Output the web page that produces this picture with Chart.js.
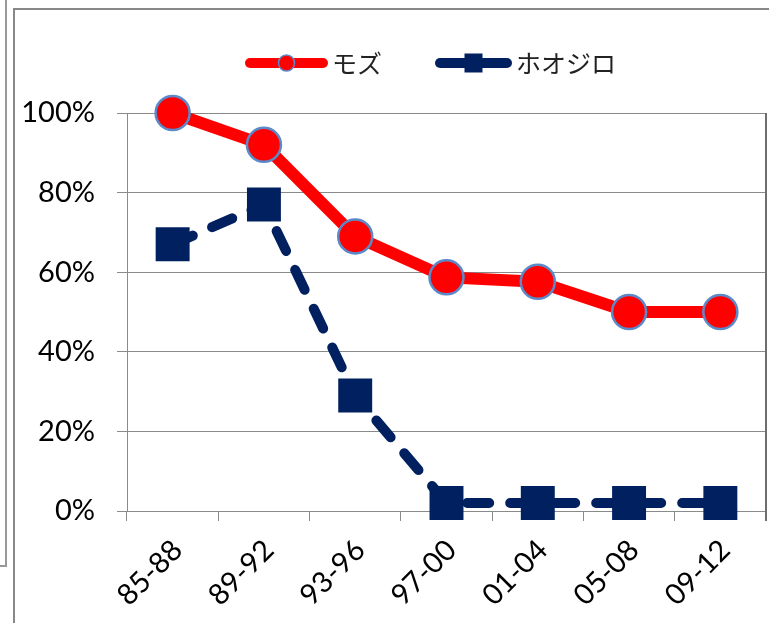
<!DOCTYPE html>
<html>
<head>
<meta charset="utf-8">
<script src="https://cdn.jsdelivr.net/npm/chart.js@4/dist/chart.umd.min.js"></script>
<style>
  html, body { margin: 0; padding: 0; background: #fff; }
  #wrap { position: relative; width: 769px; height: 623px; overflow: hidden; }
  #chart { position: absolute; left: 0; top: 0; }
  .frame-outer { position: absolute; left: -10px; top: -10px; width: 15px; height: 575px;
                 border-right: 2px solid #999; border-bottom: 2px solid #999; }
  .frame-inner { position: absolute; left: 13px; top: 8px; width: 800px; height: 700px;
                 border-left: 2px solid #888; border-top: 2px solid #888; }
</style>
</head>
<body>
<div id="wrap">
  <canvas id="chart" width="769" height="623"></canvas>
  <div class="frame-outer"></div>
  <div class="frame-inner"></div>
</div>
<script>
// Survey periods
const categories = ['85-88', '89-92', '93-96', '97-00', '01-04', '05-08', '09-12'];
// Share of sites where each species was recorded (%)
const mozu = [100, 92, 69, 58.7, 57.6, 50, 50];
const hoojiro = [67, 77, 29, 2, 2, 2, 2];
// Y axis ticks
const yTicks = [0, 20, 40, 60, 80, 100];

const RED = '#FF0000';
const NAVY = '#002060';
const MARKER_EDGE = '#5B89C9';

// Legend drawn as a line sample with its marker, then the label
const lineLegend = {
  id: 'lineLegend',
  afterDraw(chart, args, opts) {
    const ctx = chart.ctx;
    let x = opts.x;
    const y = opts.y;
    chart.data.datasets.forEach((ds, i) => {
      const w = opts.sampleWidth[i];
      ctx.save();
      ctx.strokeStyle = ds.borderColor;
      ctx.lineWidth = 10;
      ctx.lineCap = 'round';
      ctx.beginPath();
      ctx.moveTo(x + 5, y);
      ctx.lineTo(x + w - 5, y);
      ctx.stroke();
      const cx = x + w / 2;
      if (ds.pointStyle === 'rect') {
        ctx.fillStyle = ds.pointBackgroundColor;
        ctx.fillRect(cx - 9, y - 9.5, 18, 19);
      } else {
        ctx.beginPath();
        ctx.arc(cx, y, 8, 0, Math.PI * 2);
        ctx.fillStyle = ds.pointBackgroundColor;
        ctx.fill();
        ctx.lineWidth = 1.5;
        ctx.strokeStyle = ds.pointBorderColor;
        ctx.stroke();
      }
      ctx.font = '25px "Noto Sans CJK JP"';
      ctx.fillStyle = '#222';
      ctx.textBaseline = 'middle';
      ctx.textAlign = 'left';
      const tx = x + w + 4;
      ctx.fillText(ds.label, tx, y);
      x = tx + ctx.measureText(ds.label).width + opts.gap;
      ctx.restore();
    });
  }
};

// Right-hand edge of the plot area
const plotEdge = {
  id: 'plotEdge',
  afterDraw(chart) {
    const { ctx, chartArea } = chart;
    ctx.save();
    ctx.strokeStyle = '#6e6e6e';
    ctx.lineWidth = 2;
    ctx.beginPath();
    ctx.moveTo(chartArea.right, chartArea.top);
    ctx.lineTo(chartArea.right, chartArea.bottom + 10);
    ctx.stroke();
    ctx.restore();
  }
};

new Chart(document.getElementById('chart'), {
  type: 'line',
  data: {
    labels: categories,
    datasets: [
      {
        label: 'モズ',
        data: mozu,
        borderColor: RED,
        backgroundColor: RED,
        borderWidth: 12,
        borderCapStyle: 'round',
        borderJoinStyle: 'round',
        pointStyle: 'circle',
        pointRadius: 17,
        pointHoverRadius: 17,
        pointBackgroundColor: RED,
        pointBorderColor: MARKER_EDGE,
        pointBorderWidth: 2.5,
        tension: 0,
        clip: false,
        order: 2
      },
      {
        label: 'ホオジロ',
        data: hoojiro,
        borderColor: NAVY,
        backgroundColor: NAVY,
        borderWidth: 10,
        borderDash: [22, 21],
        borderCapStyle: 'round',
        borderJoinStyle: 'round',
        pointStyle: 'rect',
        pointRadius: 24,
        pointHoverRadius: 24,
        pointBackgroundColor: NAVY,
        pointBorderColor: NAVY,
        pointBorderWidth: 0,
        tension: 0,
        clip: false,
        order: 1
      }
    ]
  },
  options: {
    responsive: false,
    animation: false,
    events: [],
    layout: { autoPadding: false, padding: { left: 0, right: 3, top: 113, bottom: 0 } },
    plugins: {
      legend: { display: false },
      tooltip: { enabled: false },
      lineLegend: { x: 245, y: 63, sampleWidth: [83, 77], gap: 53 }
    },
    scales: {
      x: {
        type: 'category',
        offset: true,
        grid: {
          offset: true,
          drawOnChartArea: false,
          drawTicks: true,
          tickLength: 10,
          color: '#8a8a8a',
          lineWidth: 1
        },
        border: { color: '#8a8a8a', width: 1 },
        ticks: {
          autoSkip: false,
          maxRotation: 45,
          minRotation: 45,
          padding: 12,
          labelOffset: 5,
          color: '#000',
          font: { family: 'Lato', size: 29 }
        },
        afterFit(scale) {
          scale.height = 112;
          scale.paddingLeft = 0;
          scale.paddingRight = 0;
        }
      },
      y: {
        min: 0,
        max: 100,
        afterBuildTicks(scale) { scale.ticks = yTicks.map(v => ({ value: v })); },
        grid: {
          drawTicks: true,
          tickLength: 10,
          color: '#8a8a8a',
          lineWidth: 1
        },
        border: { color: '#8a8a8a', width: 1 },
        ticks: {
          padding: 22,
          color: '#000',
          font: { family: 'Lato', size: 29 },
          callback: v => v + '%'
        },
        afterFit(scale) {
          scale.width = 127;
          scale.paddingTop = 0;
          scale.paddingBottom = 0;
        }
      }
    }
  },
  plugins: [lineLegend, plotEdge]
});
</script>
</body>
</html>
